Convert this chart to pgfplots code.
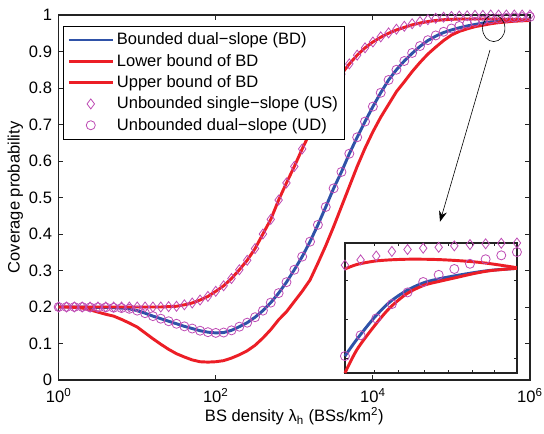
\documentclass[border=0pt]{standalone}
\usepackage{fontspec}
\setmainfont{Liberation Sans}
\usepackage{pgfplots}
\pgfplotsset{compat=1.18}
\usepackage{pgfplotstable}
\usetikzlibrary{arrows.meta}

\definecolor{bdblue}{RGB}{47,82,168}
\definecolor{bdred}{RGB}{236,30,38}
\definecolor{mkpink}{RGB}{190,75,180}
\definecolor{framegray}{RGB}{35,35,35}

% t = log10(lambda_b); bd = bounded dual-slope, lo/up = bounds, us/ud = unbounded models
\pgfplotstableread{
t    bd    lo    up    us    ud
0.0 0.200 0.200 0.200 0.200 0.200
0.1 0.200 0.200 0.200 0.200 0.200
0.2 0.200 0.199 0.200 0.200 0.200
0.3 0.200 0.197 0.200 0.200 0.200
0.4 0.199 0.192 0.200 0.200 0.199
0.5 0.199 0.186 0.200 0.200 0.199
0.6 0.199 0.180 0.200 0.200 0.199
0.7 0.198 0.175 0.200 0.200 0.198
0.8 0.197 0.166 0.200 0.200 0.197
0.9 0.195 0.156 0.200 0.200 0.195
1.0 0.190 0.145 0.200 0.200 0.190
1.1 0.183 0.129 0.200 0.200 0.183
1.2 0.175 0.113 0.200 0.200 0.175
1.3 0.168 0.098 0.200 0.200 0.168
1.4 0.161 0.084 0.201 0.201 0.161
1.5 0.154 0.072 0.202 0.202 0.154
1.6 0.147 0.063 0.206 0.206 0.147
1.7 0.141 0.055 0.211 0.211 0.141
1.8 0.135 0.050 0.219 0.219 0.135
1.9 0.131 0.049 0.229 0.229 0.131
2.0 0.129 0.050 0.243 0.243 0.129
2.1 0.130 0.053 0.258 0.258 0.130
2.2 0.136 0.060 0.278 0.278 0.136
2.3 0.146 0.069 0.302 0.302 0.146
2.4 0.157 0.080 0.328 0.328 0.157
2.5 0.172 0.095 0.360 0.360 0.172
2.6 0.190 0.115 0.400 0.400 0.190
2.7 0.212 0.138 0.440 0.440 0.212
2.8 0.238 0.165 0.493 0.493 0.238
2.9 0.268 0.187 0.540 0.540 0.268
3.0 0.302 0.215 0.585 0.585 0.302
3.1 0.338 0.243 0.633 0.633 0.338
3.2 0.379 0.274 0.678 0.678 0.379
3.3 0.425 0.320 0.720 0.720 0.425
3.4 0.474 0.368 0.760 0.760 0.474
3.5 0.525 0.420 0.800 0.800 0.525
3.6 0.570 0.475 0.838 0.838 0.570
3.7 0.620 0.530 0.866 0.866 0.620
3.8 0.665 0.585 0.890 0.890 0.665
3.9 0.708 0.635 0.910 0.910 0.708
4.0 0.749 0.680 0.926 0.926 0.749
4.1 0.787 0.720 0.939 0.940 0.787
4.2 0.822 0.755 0.950 0.951 0.822
4.3 0.850 0.790 0.959 0.961 0.850
4.4 0.874 0.817 0.966 0.969 0.874
4.5 0.895 0.845 0.973 0.976 0.896
4.6 0.914 0.870 0.978 0.982 0.915
4.7 0.930 0.893 0.982 0.987 0.931
4.8 0.942 0.912 0.985 0.991 0.944
4.9 0.952 0.930 0.987 0.994 0.954
5.0 0.959 0.945 0.988 0.996 0.963
5.1 0.965 0.955 0.989 0.997 0.970
5.2 0.970 0.962 0.989 0.998 0.976
5.3 0.974 0.968 0.989 0.999 0.981
5.4 0.978 0.972 0.989 0.999 0.985
5.5 0.981 0.976 0.989 1.000 0.988
5.6 0.983 0.979 0.989 1.000 0.990
5.7 0.984 0.981 0.988 1.000 0.992
5.8 0.985 0.983 0.988 1.000 0.993
5.9 0.986 0.984 0.987 1.000 0.994
6.0 0.986 0.985 0.987 1.000 0.995
}\maintab

% zoomed view, normalised coordinates inside the inset box
\pgfplotstableread{
u     bd    lo    up
0.00 0.130 0.000 0.800
0.07 0.260 0.180 0.835
0.17 0.425 0.360 0.860
0.26 0.545 0.500 0.870
0.36 0.635 0.610 0.875
0.46 0.695 0.675 0.875
0.55 0.725 0.705 0.872
0.65 0.750 0.735 0.865
0.75 0.772 0.765 0.855
0.85 0.790 0.788 0.840
1.00 0.805 0.805 0.810
}\insetlines

\pgfplotstableread{
u     us    ud
0.000 0.830 0.130
0.091 0.870 0.290
0.182 0.900 0.420
0.273 0.935 0.530
0.364 0.950 0.620
0.455 0.960 0.700
0.545 0.967 0.755
0.636 0.978 0.800
0.727 0.988 0.840
0.818 0.994 0.875
0.909 0.998 0.905
1.000 1.000 0.930
}\insetmarks

\begin{document}
\begin{tikzpicture}[font=\fontsize{12.4}{14.9}\selectfont]
\useasboundingbox (-44pt,-40.5pt) rectangle (364pt,285pt);
\begin{axis}[
    at={(0pt,0pt)}, anchor=south west,
    scale only axis, width=353.5pt, height=273.75pt,
    xmin=0, xmax=6, ymin=0, ymax=1,
    xtick={0,2,4,6},
    xticklabels={10\textsuperscript{0},10\textsuperscript{2},10\textsuperscript{4},10\textsuperscript{6}},
    ytick={0,0.1,0.2,0.3,0.4,0.5,0.6,0.7,0.8,0.9,1},
    /pgf/number format/assume math mode=true,
    tick align=inside, major tick length=3.5pt,
    axis line style={framegray, line width=0.8pt},
    tick style={framegray, line width=0.6pt},
    yticklabel style={xshift=-1.5pt},
    xticklabel style={yshift=-3pt},
    xlabel={BS density λ\textsubscript{h} (BSs/km\textsuperscript{2})},
    ylabel={Coverage probability},
    xlabel style={at={(axis description cs:0.5,-0.114)}, anchor=base},
    ylabel style={at={(axis description cs:-0.092,0.5)}, anchor=center},
    clip=false,
    legend style={at={(0.009,0.97)}, anchor=north west, draw=black,
        line width=0.6pt, row sep=1.5pt, inner xsep=3pt, inner ysep=3pt,
        font=\fontsize{12.4}{14.9}\selectfont},
    legend cell align=left,
    legend image code/.code={\draw[mark repeat=2,mark phase=2,#1]
        plot coordinates {(0pt,0pt) (16.5pt,0pt) (33pt,0pt)};},
]
\addplot[bdblue, line width=2.2pt, line join=round] table[x=t, y=bd] {\maintab};
\addplot[bdred, line width=2.2pt, line join=round] table[x=t, y=lo] {\maintab};
\addplot[bdred, line width=2.2pt, line join=round] table[x=t, y=up] {\maintab};
\addplot[only marks, mark=diamond, mark size=3.75pt,
    mark options={draw=mkpink, fill=none, line width=0.6pt}] table[x=t, y=us] {\maintab};
\addplot[only marks, mark=o, mark size=3.4pt,
    mark options={draw=mkpink, line width=0.6pt}] table[x=t, y=ud] {\maintab};
\legend{Bounded dual\textminus slope (BD), Lower bound of BD, Upper bound of BD,
    Unbounded single\textminus slope (US), Unbounded dual\textminus slope (UD)}
\end{axis}

\begin{axis}[
    at={(214.7pt,5.25pt)}, anchor=south west,
    scale only axis, width=129pt, height=97.5pt,
    xmin=0, xmax=1, ymin=0, ymax=1,
    xtick={0.17,0.31,0.46,0.6,0.74,0.87}, ytick={0.11,0.41,0.71},
    xticklabels={}, yticklabels={},
    tick align=inside, major tick length=2pt,
    axis line style={framegray, line width=1.2pt},
    tick style={framegray, line width=0.5pt},
    axis background/.style={fill=white},
    clip=false,
]
\addplot[bdblue, line width=2.2pt, smooth] table[x=u, y=bd] {\insetlines};
\addplot[bdred, line width=2.2pt, smooth] table[x=u, y=lo] {\insetlines};
\addplot[bdred, line width=2.2pt, smooth] table[x=u, y=up] {\insetlines};
\addplot[only marks, mark=diamond, mark size=3.75pt,
    mark options={draw=mkpink, fill=none, line width=0.6pt}] table[x=u, y=us] {\insetmarks};
\addplot[only marks, mark=o, mark size=3.4pt,
    mark options={draw=mkpink, line width=0.6pt}] table[x=u, y=ud] {\insetmarks};
\end{axis}

\draw[line width=0.45pt] (326.3pt,263.8pt) ellipse (8.4pt and 10pt);
\draw[line width=0.45pt, -{Stealth[length=8pt,width=6pt]}] (323.5pt,247.5pt) -- (286pt,118.7pt);
\end{tikzpicture}
\end{document}
